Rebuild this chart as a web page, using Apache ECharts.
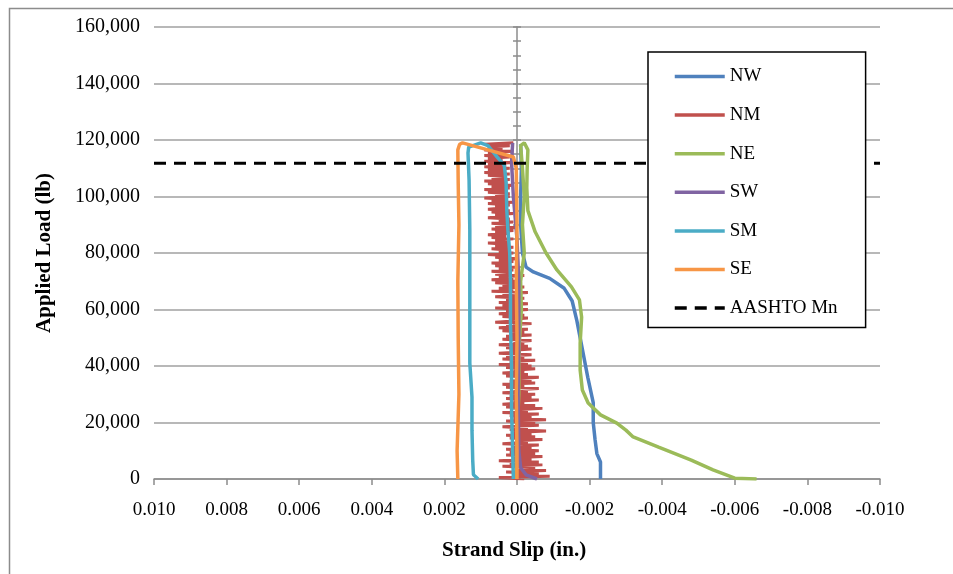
<!DOCTYPE html>
<html>
<head>
<meta charset="utf-8">
<script src="https://cdn.jsdelivr.net/npm/echarts@6/dist/echarts.min.js"></script>
<style>
html,body{margin:0;padding:0;background:#fff;}
#chart{width:953px;height:574px;}
</style>
</head>
<body>
<div id="chart"></div>
<script>
// ---- data (x = strand slip in., y = applied load lb) ----
var xTicks = [0.010, 0.008, 0.006, 0.004, 0.002, 0.000, -0.002, -0.004, -0.006, -0.008, -0.010];
var yTicks = [0, 20000, 40000, 60000, 80000, 100000, 120000, 140000, 160000];
var seriesNames = ['NW', 'NM', 'NE', 'SW', 'SM', 'SE', 'AASHTO Mn'];

var NW = [[-0.0023,0],[-0.0023,2500],[-0.0023,6000],[-0.0022,9000],[-0.00215,14000],[-0.0021,20000],[-0.0021,27000],[-0.00195,36000],[-0.0018,46000],[-0.00165,56000],[-0.00152,63000],[-0.0013,67500],[-0.0009,71000],[-0.00045,73300],[-0.00025,75000],[-0.00015,80000],[-0.0001,90000],[-0.0001,100000],[-0.00012,110000],[-0.0001,118500]];

var NM = [
[-0.0002,0],[0.0005,500],[-0.0009,1000],[0.0001,1500],[-0.0006,2000],[0.0003,2500],[-0.0008,3000],[0.0000,3500],[-0.0005,4000],[0.0004,4500],
[-0.0007,5000],[0.0002,5500],[-0.0006,6000],[0.0005,6500],[-0.0004,7000],[0.0001,7500],[-0.0007,8000],[0.0003,8500],[-0.0005,9000],[0.0002,9500],
[-0.0006,10000],[0.0003,10500],[-0.0004,11000],[0.0001,11500],[-0.0006,12000],[0.0004,12500],[-0.0003,13000],[0.0000,13500],[-0.0007,14000],[0.0002,14500],
[-0.0005,15000],[0.0003,15500],[-0.0004,16000],[0.0001,16500],[-0.0008,17000],[0.0002,17500],[-0.0003,18000],[0.0004,18500],[-0.0006,19000],[0.0000,19500],
[-0.0005,20000],[0.0003,20500],[-0.0008,21000],[0.0001,21500],[-0.0004,22000],[0.0002,22500],[-0.0006,23000],[0.0004,23500],[-0.0003,24000],[0.0000,24500],
[-0.0007,25000],[0.0003,25500],[-0.0005,26000],[0.0004,26500],[-0.0002,27000],[0.0001,27500],[-0.0006,28000],[0.0003,28500],[-0.0004,29000],[0.0002,29500],
[-0.0005,30000],[0.0004,30500],[-0.0003,31000],[0.0001,31500],[-0.0006,32000],[0.0003,32500],[-0.0002,33000],[0.0004,33500],[-0.0005,34000],[0.0002,34500],
[-0.0004,35000],[0.0000,35500],[-0.0006,36000],[0.0003,36500],[-0.0003,37000],[0.0004,37500],[-0.0002,38000],[0.0001,38500],[-0.0005,39000],[0.0003,39500],
[-0.0004,40000],[0.0005,40500],[-0.0003,41000],[0.0002,41500],[-0.0005,42000],[0.0004,42500],[-0.0002,43000],[0.0003,43500],[-0.0004,44000],[0.0005,44500],
[-0.0001,45000],[0.0002,45500],[-0.0004,46000],[0.0003,46500],[-0.0003,47000],[0.0005,47500],[-0.0002,48000],[0.0001,48500],[-0.0004,49000],[0.0004,49500],
[-0.0001,50000],[0.0003,50500],[-0.0004,51000],[0.0002,51500],[-0.0002,52000],[0.0004,52500],[-0.0003,53000],[0.0005,53500],[-0.0001,54000],[0.0003,54500],
[-0.0004,55000],[0.0006,55500],[0.0000,56000],[0.0002,56500],[-0.0003,57000],[0.0004,57500],[-0.0002,58000],[0.0005,58500],[-0.0001,59000],[0.0003,59500],
[-0.0003,60000],[0.0006,60500],[0.0000,61000],[0.0004,61500],[-0.0003,62000],[0.0005,62500],[-0.0001,63000],[0.0003,63500],[-0.0002,64000],[0.0006,64500],
[0.0000,65000],[0.0004,65500],[-0.0003,66000],[0.0007,66500],[0.0001,67000],[0.0005,67500],[-0.0002,68000],[0.0004,68500],[0.0000,69000],[0.0006,69500],
[-0.0001,70000],[0.0007,70500],[0.0001,71000],[0.0005,71500],[-0.0002,72000],[0.0006,72500],[0.0002,73000],[0.0007,73500],[0.0001,74000],[0.0005,74500],
[0.0000,75000],[0.0006,75500],[0.0002,76000],[0.0007,76500],[0.0001,77000],[0.0005,77500],[0.0000,78000],[0.0006,78500],[0.0002,79000],[0.0008,79500],
[0.0001,80000],[0.0005,80500],[0.0002,81000],[0.0007,81500],[0.0001,82000],[0.0006,82500],[0.0002,83000],[0.0008,83500],[0.0002,84000],[0.0006,84500],
[0.0001,85000],[0.0007,85500],[0.0003,86000],[0.0008,86500],[0.0002,87000],[0.0006,87500],[0.0001,88000],[0.0007,88500],[0.0000,89000],[0.0006,89500],
[0.0002,90000],[0.0007,90500],[0.0001,91000],[0.0005,91500],[0.0002,92000],[0.0008,92500],[0.0003,93000],[0.0006,93500],[0.0001,94000],[0.0007,94500],
[0.0002,95000],[0.0008,95500],[0.0003,96000],[0.0006,96500],[0.0002,97000],[0.0008,97500],[0.0001,98000],[0.0007,98500],[0.0003,99000],[0.0009,99500],
[0.0002,100000],[0.0006,100500],[0.0002,101000],[0.0008,101500],[0.0003,102000],[0.0009,102500],[0.0002,103000],[0.0007,103500],[0.0001,104000],[0.0008,104500],
[0.0003,105000],[0.0009,105500],[0.0002,106000],[0.0007,106500],[0.0003,107000],[0.0008,107500],[0.0002,108000],[0.0009,108500],[0.0003,109000],[0.0008,109500],
[0.0002,110000],[0.0009,110500],[0.0003,111000],[0.0008,111500],[0.0001,112000],[0.0009,112500],[0.0004,113000],[0.0008,113500],[0.0002,114000],[0.0009,114500],
[0.0003,115000],[0.0008,115500],[0.0001,116000],[0.0009,116500],[0.0004,117000],[0.0008,117500],[0.0002,118000],[0.0009,118500],[0.0001,119000]];

var NE = [[-0.0066,0],[-0.006,300],[-0.0054,3200],[-0.0048,6700],[-0.0039,11300],[-0.0032,14900],[-0.003,17300],[-0.00275,19800],[-0.0023,22700],[-0.00196,26900],[-0.0018,31500],[-0.00174,38600],[-0.00174,48100],[-0.00178,57300],[-0.00172,63400],[-0.0015,68000],[-0.0011,74000],[-0.0008,80000],[-0.0005,87500],[-0.0003,95000],[-0.00027,103000],[-0.00028,110000],[-0.0003,116500],[-0.0002,119000],[-0.0001,118000],[-0.00015,110000],[-0.0002,100000],[-0.00015,90000],[-0.0002,80000],[-0.0001,70000],[-0.00012,60000],[-0.00005,45000],[-0.00005,30000],[0,15000],[0.00002,0]];

var SW = [[0.00012,119000],[0.00015,112000],[0.0001,100000],[0,85000],[-0.00005,70000],[-0.00005,50000],[-0.00003,30000],[-0.00005,10000],[-0.0001,4000],[-0.00025,1500],[-0.00055,0]];

var SM = [[0.00107,0],[0.0012,1500],[0.00122,6700],[0.00124,17300],[0.00124,29000],[0.0013,41000],[0.0013,52700],[0.0013,70400],[0.0013,88100],[0.00132,105800],[0.00135,115400],[0.00133,117500],[0.001,119000],[0.0008,118000],[0.00055,114000],[0.00035,111000],[0.0003,105000],[0.00028,95000],[0.00025,88000],[0.0002,80000],[0.00018,70000],[0.00018,55000],[0.00015,40000],[0.00015,25000],[0.00012,10000],[0.0001,0]];

var SE = [[0.00163,0],[0.00165,10000],[0.0016,30000],[0.00162,50000],[0.00163,70000],[0.0016,90000],[0.00162,105000],[0.00163,116500],[0.00158,118500],[0.0015,119000],[0.0008,116500],[0.0001,114000],[0.00002,110000],[0,90000],[0.00002,70000],[0,50000],[0.00002,30000],[0,10000],[0,0]];

var AASHTO = [[0.010,111800],[-0.010,111800]];

var colors = ['#4F81BD','#C0504D','#9BBB59','#8064A2','#4BACC6','#F79646','#000000'];

// ---- chart ----
var chart = echarts.init(document.getElementById('chart'), null, {renderer:'canvas'});
var FONT = 'Liberation Serif';
var LW = 3.5;
function mkLine(name, data, color, extra){
  var s = {name:name, type:'line', data:data, showSymbol:false, symbol:'none',
    xAxisIndex:0, yAxisIndex:0, animation:false,
    lineStyle:{color:color, width:LW}, itemStyle:{color:color}, z:3};
  if (extra) for (var k in extra) s[k]=extra[k];
  return s;
}
var series = [
  mkLine(seriesNames[0], NW, colors[0]),
  mkLine(seriesNames[1], NM, colors[1], {lineStyle:{color:colors[1], width:3}}),
  mkLine(seriesNames[2], NE, colors[2]),
  mkLine(seriesNames[3], SW, colors[3]),
  mkLine(seriesNames[4], SM, colors[4]),
  mkLine(seriesNames[5], SE, colors[5]),
  mkLine(seriesNames[6], AASHTO, colors[6], {lineStyle:{color:'#000', width:3, type:[12,8]}})
];

var yBase = {type:'value', min:yTicks[0], max:yTicks[yTicks.length-1], interval:20000, gridIndex:0};
var tickStyle = {color:'#8c8c8c', width:1.5};
var option = {
  backgroundColor:'#ffffff',
  animation:false,
  grid:{left:154, right:73, top:27, bottom:95, containLabel:false},
  xAxis:{type:'value', min:-0.010, max:0.010, interval:0.002, inverse:true,
    axisLine:{onZero:false, lineStyle:{color:'#8c8c8c', width:1.5}},
    axisTick:{show:true, length:6, lineStyle:tickStyle},
    splitLine:{show:false},
    axisLabel:{margin:22, color:'#000', fontFamily:FONT, fontSize:19,
      formatter:function(v){ if (Math.abs(v)<1e-9) return '0.000'; return v.toFixed(3); }}
  },
  yAxis:[
    Object.assign({}, yBase, {position:'left',
      axisLine:{show:false, onZero:false}, axisTick:{show:false},
      splitLine:{show:true, lineStyle:{color:'#a0a0a0', width:1.5}},
      axisLabel:{margin:14, color:'#000', fontFamily:FONT, fontSize:20,
        formatter:function(v){ return v.toLocaleString('en-US'); }}}),
    Object.assign({}, yBase, {position:'left', offset:-363,
      axisLine:{show:true, onZero:false, lineStyle:{color:'#8c8c8c', width:1.5}},
      axisTick:{show:true, inside:false, length:4, lineStyle:tickStyle},
      minorTick:{show:true, splitNumber:4, length:4, lineStyle:tickStyle},
      splitLine:{show:false}, axisLabel:{show:false}}),
    Object.assign({}, yBase, {position:'left', offset:-363,
      axisLine:{show:false, onZero:false},
      axisTick:{show:true, inside:true, length:4, lineStyle:tickStyle},
      minorTick:{show:true, splitNumber:4, length:4, lineStyle:tickStyle},
      splitLine:{show:false}, axisLabel:{show:false}})
  ],
  legend:{orient:'vertical', left:648, top:52, data:seriesNames,
    padding:[15,28,10,25], itemGap:19.6, itemWidth:50, itemHeight:14,
    borderColor:'#000', borderWidth:1.5, backgroundColor:'#fff',
    itemStyle:{opacity:0}, lineStyle:{width:3.5},
    textStyle:{fontFamily:FONT, fontSize:19, color:'#000'},
    selectedMode:false},
  graphic:[
    {type:'rect', left:7, top:6, shape:{width:1000, height:1000}, silent:true, z:-10,
      style:{fill:'none', stroke:'#8c8c8c', lineWidth:1.5}},
    {type:'text', left:442, top:540, silent:true,
      style:{text:'Strand Slip (in.)', font:'bold 21px "Liberation Serif"', fill:'#000'}},
    {type:'text', x:45, y:253, rotation:Math.PI/2, silent:true,
      style:{text:'Applied Load (lb)', font:'bold 21px "Liberation Serif"', fill:'#000', align:'center', verticalAlign:'middle'}}
  ],
  series:series
};
chart.setOption(option);
</script>
</body>
</html>
